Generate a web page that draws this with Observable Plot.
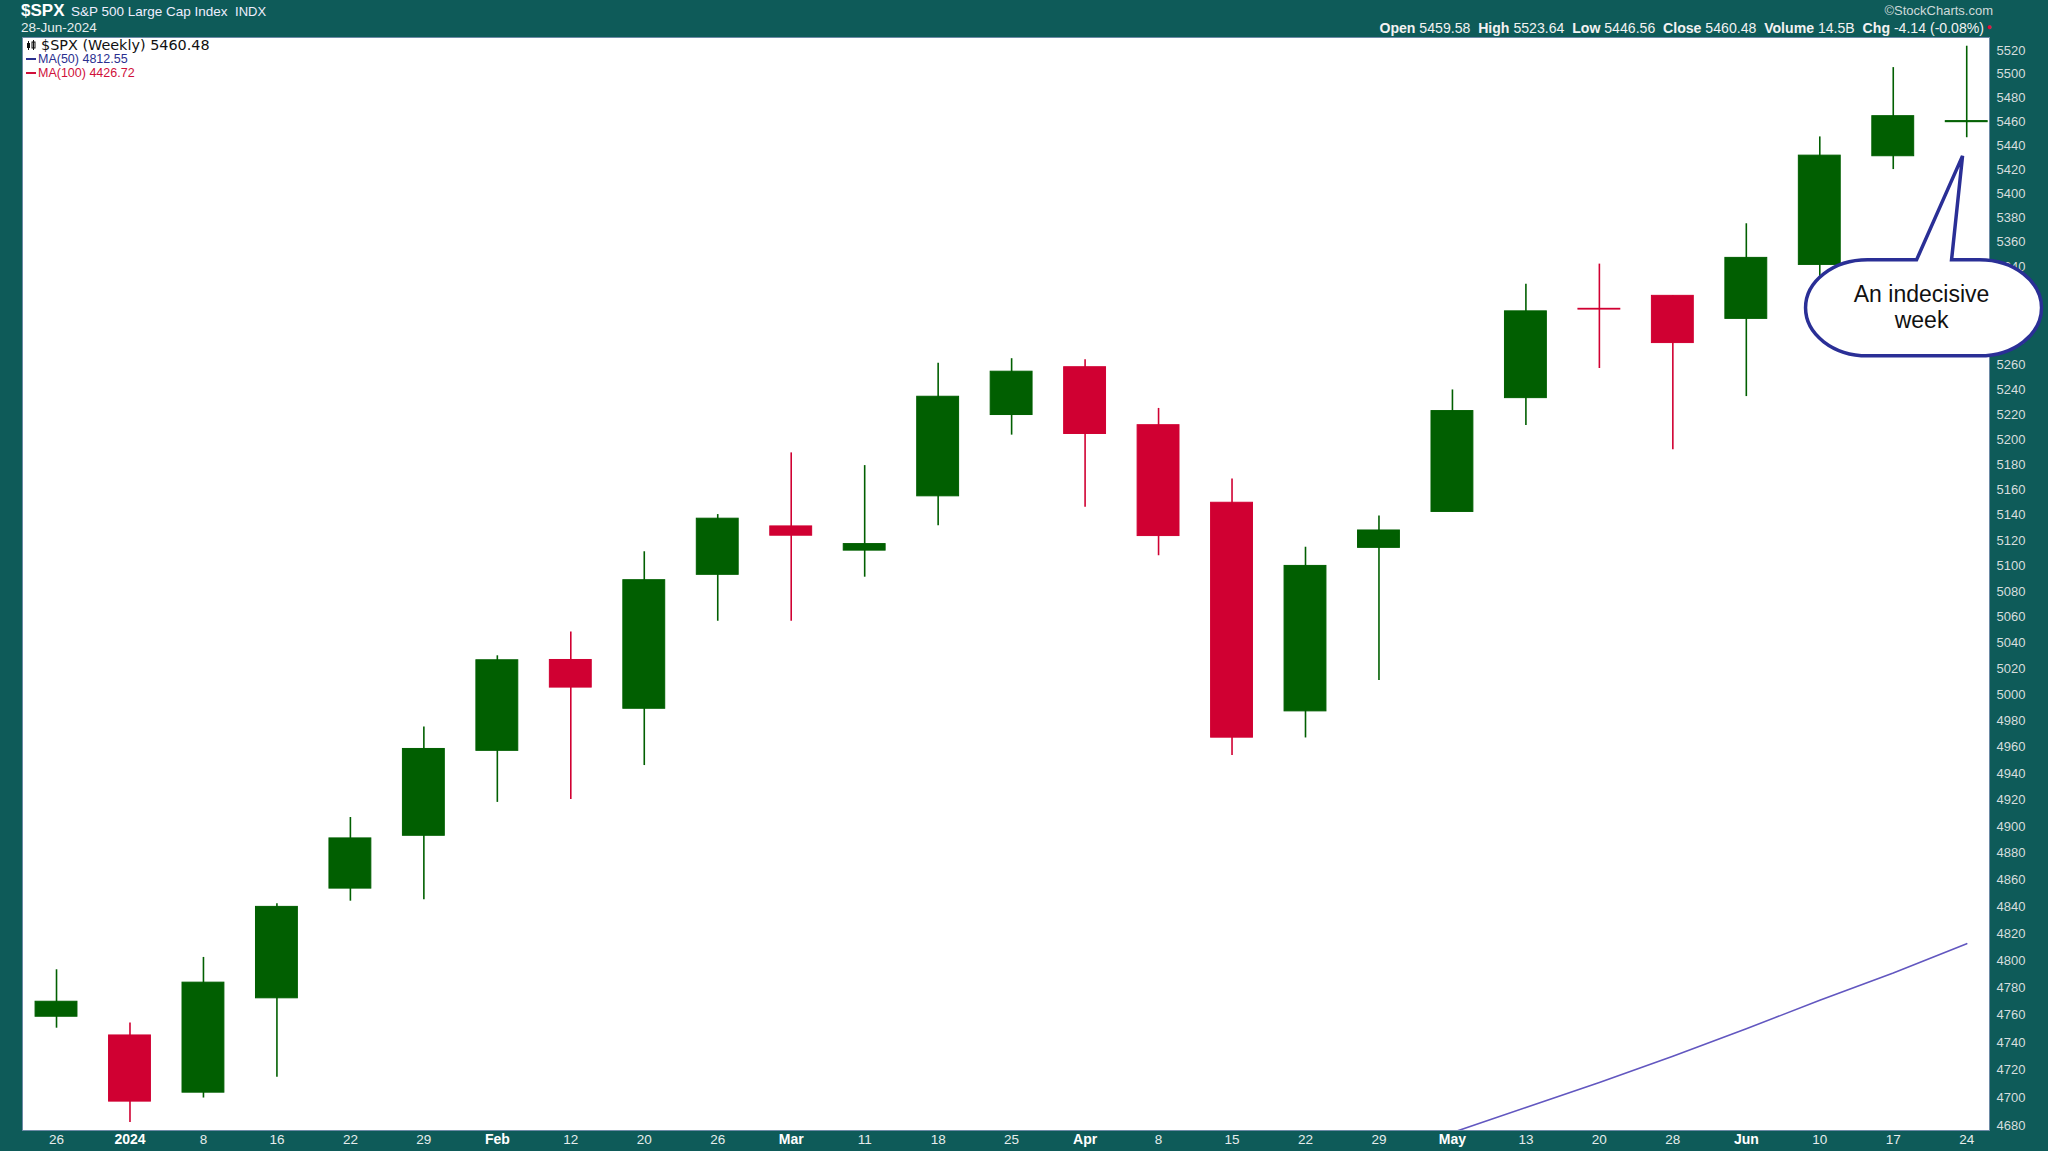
<!DOCTYPE html>
<html>
<head>
<meta charset="utf-8">
<script src="https://cdn.jsdelivr.net/npm/d3@7"></script>
<script src="https://cdn.jsdelivr.net/npm/@observablehq/plot@0.6"></script>
<style>
html, body { margin: 0; padding: 0; background: #0e5b59; }
#wrap { position: relative; width: 2048px; height: 1151px; background: #0e5b59; overflow: hidden;
  font-family: "Liberation Sans", Arial, sans-serif; }
.abs { position: absolute; white-space: nowrap; line-height: 1; }
#chart { position: absolute; left: 0; top: 0; }
</style>
</head>
<body>
<div id="wrap">
  <div id="chart"></div>
  <div class="abs" style="left:21px;top:2px;color:#fff;">
    <span style="font-weight:bold;font-size:17px;">$SPX</span>
    <span style="font-size:13.5px;color:#eef;margin-left:2px;">S&amp;P 500 Large Cap Index</span>
    <span style="font-size:13px;color:#eef;margin-left:3px;">INDX</span>
  </div>
  <div class="abs" style="left:21px;top:21px;color:#e8eeee;font-size:13.5px;">28-Jun-2024</div>
  <div class="abs" style="right:55px;top:4px;color:#cfdada;font-size:13px;">&copy;StockCharts.com</div>
  <div class="abs" id="stats" style="right:64px;top:21px;color:#f2f2f2;font-size:14.1px;"></div>
  <div class="abs" style="right:56px;top:23px;color:#e0103c;font-size:9px;">&#9679;</div>
  <div class="abs" style="left:26px;top:38px;color:#111;font-family:'DejaVu Sans',Verdana,sans-serif;font-size:14.4px;">
    <svg width="10" height="11" style="vertical-align:-1px;margin-right:5px;"><rect x="1" y="3" width="3" height="5" fill="#111"/><line x1="2.5" y1="1" x2="2.5" y2="10" stroke="#111"/><rect x="6" y="2" width="3" height="6" fill="none" stroke="#111" stroke-width="1"/><line x1="7.5" y1="0" x2="7.5" y2="10" stroke="#111"/></svg>$SPX (Weekly) 5460.48
  </div>
  <div class="abs" style="left:26px;top:53px;color:#2a2f8f;font-size:12.5px;"><span style="display:inline-block;width:10px;height:2px;background:#2a2f8f;vertical-align:3px;margin-right:2px;"></span>MA(50) 4812.55</div>
  <div class="abs" style="left:26px;top:67px;color:#d0103a;font-size:12.5px;"><span style="display:inline-block;width:10px;height:2px;background:#d0103a;vertical-align:3px;margin-right:2px;"></span>MA(100) 4426.72</div>
</div>
<script>
// ---- data (weekly S&P 500) ----
const weekLabels = ["26","2024","8","16","22","29","Feb","12","20","26","Mar","11","18","25","Apr","8","15","22","29","May","13","20","28","Jun","10","17","24"];
const boldLabels = ["2024","Feb","Mar","Apr","May","Jun"];
const openV  = [4758.86,4745.20,4703.70,4772.35,4853.42,4892.95,4957.19,5026.83,4989.32,5093.00,5130.99,5111.96,5154.77,5219.52,5257.97,5211.37,5149.67,4987.33,5114.13,5142.42,5233.08,5305.35,5315.91,5297.15,5341.22,5431.11,5459.58];
const highV  = [4793.30,4754.33,4802.40,4842.07,4906.69,4975.29,5030.06,5048.39,5111.06,5140.33,5189.26,5179.14,5261.10,5264.85,5263.95,5224.81,5168.43,5114.62,5139.12,5239.66,5325.49,5341.88,5315.91,5375.08,5447.25,5505.53,5523.64];
const lowV   = [4750.50,4682.11,4699.82,4714.82,4844.05,4845.15,4918.09,4920.31,4946.00,5056.82,5056.82,5091.14,5131.59,5203.42,5146.06,5107.94,4953.56,4967.00,5011.05,5142.42,5211.16,5256.93,5191.68,5234.32,5324.66,5420.00,5446.56];
const closeV = [4769.83,4697.24,4783.83,4839.81,4890.97,4958.61,5026.61,5005.57,5088.80,5137.08,5123.69,5117.09,5234.18,5254.35,5204.34,5123.41,4967.23,5099.96,5127.79,5222.68,5303.27,5304.72,5277.51,5346.99,5431.60,5464.62,5460.48];
const ma50Week  = [18,19,20,21,22,23,24,25,26];
const ma50Value = [4657,4675,4693,4711,4730,4750,4771,4791,4812.55];
const yTicks = [4680,4700,4720,4740,4760,4780,4800,4820,4840,4860,4880,4900,4920,4940,4960,4980,5000,5020,5040,5060,5080,5100,5120,5140,5160,5180,5200,5220,5240,5260,5280,5300,5320,5340,5360,5380,5400,5420,5440,5460,5480,5500,5520];
const callout = {lines: ["An indecisive", "week"], week: 25.95, price: 5431};
const statsItems = [["Open","5459.58"],["High","5523.64"],["Low","5446.56"],["Close","5460.48"],["Volume","14.5B"],["Chg","-4.14 (-0.08%)"]];

(function () {
const GREEN = "#015f01", RED = "#d00032", MA = "#6257c0";

document.getElementById("stats").innerHTML = statsItems
  .map(([k, v]) => `<b>${k}</b> ${v}`).join("&nbsp; ");

const candles = weekLabels.map((w, i) => ({
  i, w, o: openV[i], h: highV[i], l: lowV[i], c: closeV[i],
  col: closeV[i] >= openV[i] ? GREEN : RED
}));
const ma = ma50Week.map((i, k) => ({i, v: ma50Value[k]}));
const labels = weekLabels.map((w, i) => ({i, w, bold: boldLabels.includes(w)}));
const half = 0.285;

const plot = Plot.plot({
  width: 2048,
  height: 1151,
  marginLeft: 22,
  marginRight: 59,
  marginTop: 37,
  marginBottom: 21,
  style: {background: "transparent", color: "#d6dede", fontFamily: "'Liberation Sans', Arial, sans-serif", fontSize: "13px", overflow: "visible"},
  x: {type: "linear", domain: [-0.463, 26.31], axis: null},
  y: {type: "log", domain: [4676.45, 5531.04], axis: "right", ticks: yTicks, tickFormat: d => String(d), tickSize: 0, tickPadding: 7, label: null},
  color: {type: "identity"},
  marks: [
    Plot.frame({fill: "white", stroke: "#6d8aa6", strokeWidth: 1}),
    Plot.ruleX(candles, {x: "i", y1: "l", y2: "h", stroke: "col", strokeWidth: 1.6}),
    Plot.rect(candles, {x1: d => d.i - half, x2: d => d.i + half, y1: "o", y2: "c", fill: "col", stroke: "col", strokeWidth: 1}),
    Plot.line(ma, {x: "i", y: "v", stroke: MA, strokeWidth: 1.6, clip: true}),
    Plot.text(labels.filter(d => !d.bold), {x: "i", text: "w", frameAnchor: "bottom", dy: 13, fill: "#e6ecec", fontSize: 13.5}),
    Plot.text(labels.filter(d => d.bold), {x: "i", text: "w", frameAnchor: "bottom", dy: 13, fill: "#ffffff", fontSize: 14, fontWeight: "bold"})
  ]
});
document.getElementById("chart").appendChild(plot);

// callout annotation anchored to the data scales
const sx = plot.scale("x"), sy = plot.scale("y");
const tx = sx.apply(callout.week), ty = sy.apply(callout.price);
const bl = tx - 157, br = tx + 79, bt = ty + 104, bb = ty + 200;
const rx = 62, ry = (bb - bt) / 2;
const g = d3.select(plot).append("g");
const dstr = `M${tx - 46},${bt} L${tx},${ty} L${tx - 11},${bt} L${br - rx},${bt}
  A${rx},${ry} 0 0 1 ${br - rx},${bb} L${bl + rx},${bb}
  A${rx},${ry} 0 0 1 ${bl + rx},${bt} Z`;
g.append("path").attr("d", dstr).attr("fill", "white").attr("stroke", "#2a2f96").attr("stroke-width", 3.5).attr("stroke-linejoin", "miter");
g.selectAll("text.c").data(callout.lines).join("text")
  .attr("x", tx - 41).attr("y", (d, k) => ty + 140 + k * 26)
  .attr("text-anchor", "middle").attr("dominant-baseline", "middle")
  .attr("font-family", "'Liberation Sans', Arial, sans-serif").attr("font-size", 23).attr("fill", "#111")
  .text(d => d);
})();
</script>
</body>
</html>
